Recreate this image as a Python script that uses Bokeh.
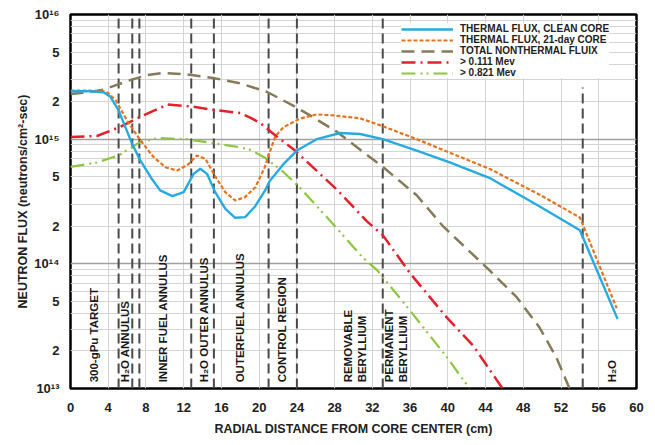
from bokeh.plotting import figure
from bokeh.models import FixedTicker, Legend, LegendItem, Range1d
from bokeh.core.properties import value
from bokeh.embed import file_html
from bokeh.resources import INLINE
import math

# Radial distance (cm) and neutron flux (neutrons/cm^2-sec) for each series
clean_x = [0, 2, 3.5, 4.2, 5.1, 5.8, 6.5, 7.4, 8.5, 9.5, 10.8, 12.0, 13.05, 13.76,
           14.47, 15.34, 16.4, 17.46, 18.52, 19.58, 20.63, 21.16, 22.57, 24.0, 26.1,
           28.6, 30.7, 33.1, 36.7, 40.2, 44.4, 49.7, 54.0, 58.0]
clean_y = [2.42e15, 2.42e15, 2.38e15, 2.2e15, 1.7e15, 1.26e15, 9.3e14, 6.75e14,
           4.95e14, 3.88e14, 3.49e14, 3.76e14, 5.27e14, 5.79e14, 5.27e14, 3.76e14,
           2.77e14, 2.34e14, 2.37e14, 2.9e14, 3.88e14, 4.67e14, 6.3e14, 8.1e14,
           1.0e15, 1.12e15, 1.1e15, 1.0e15, 8.1e14, 6.5e14, 4.9e14, 2.9e14, 1.86e14,
           3.6e13]

day21_x = [0, 2, 3.5, 4.0, 4.8, 6.0, 7.4, 8.8, 10.05, 11.3, 12.5, 13.4, 14.3, 15.3,
           16.4, 17.46, 18.5, 19.6, 20.6, 21.0, 21.7, 22.6, 24.3, 26.1, 27.9, 30.7,
           33.1, 36.7, 40.2, 44.4, 49.7, 54.0, 57.9]
day21_y = [2.45e15, 2.45e15, 2.42e15, 2.35e15, 2.04e15, 1.41e15, 9.8e14, 7.2e14,
           5.96e14, 5.6e14, 6.3e14, 7.4e14, 6.96e14, 5.1e14, 3.76e14, 3.22e14,
           3.43e14, 4.12e14, 5.96e14, 7.4e14, 1.05e15, 1.25e15, 1.46e15, 1.58e15,
           1.55e15, 1.47e15, 1.27e15, 1.0e15, 7.8e14, 5.8e14, 3.6e14, 2.35e14, 4.4e13]

nonth_x = [0, 2, 3.5, 6.0, 8.0, 9.8, 12.4, 15.1, 18.0, 20.8, 23.6, 25.4, 28.2,
           33.1, 36.7, 39.5, 44.4, 47.3, 49.7, 51.5, 52.9]
nonth_y = [2.3e15, 2.38e15, 2.5e15, 2.92e15, 3.25e15, 3.4e15, 3.3e15, 3.1e15,
           2.8e15, 2.4e15, 1.86e15, 1.55e15, 1.15e15, 6.0e14, 3.55e14, 2.0e14,
           8.9e13, 5.4e13, 3.1e13, 1.78e13, 1.0e13]

mev111_x = [0, 2.8, 5.1, 7.3, 10.3, 13.0, 15.1, 18.0, 19.1, 20.1, 22.0, 23.8,
            28.3, 31.4, 33.1, 36.0, 39.9, 42.7, 45.8]
mev111_y = [1.04e15, 1.06e15, 1.24e15, 1.5e15, 1.9e15, 1.82e15, 1.72e15, 1.62e15,
            1.48e15, 1.35e15, 1.03e15, 8.1e14, 3.9e14, 2.2e14, 1.7e14, 8.4e13,
            3.7e13, 2.2e13, 1.0e13]

mev821_x = [0, 2.8, 5.1, 7.3, 9.2, 12.3, 15.1, 18.0, 19.1, 20.6, 22.4, 24.3,
            27.8, 31.0, 32.5, 35.7, 39.9, 42.3]
mev821_y = [6.0e14, 6.5e14, 7.4e14, 9.4e14, 1.02e15, 1.0e15, 9.3e14, 8.6e14,
            8.2e14, 7.1e14, 5.6e14, 4.1e14, 2.1e14, 1.12e14, 8.9e13, 4.5e13,
            1.78e13, 1.0e13]

# Region boundaries (cm) and the flux where each boundary line stops
boundary_x = [5.1, 6.55, 7.3, 12.8, 15.2, 21.0, 24.0, 33.1, 54.3]
boundary_top = [1e16, 1e16, 1e16, 1e16, 1e16, 1e16, 1e16, 1e16, 2.6e15]

# Region names, written vertically
region_x = [2.45, 5.8, 9.85, 14.1, 18.0, 22.4, 29.4, 30.9, 33.75, 35.2, 57.4]
region_text = ["300-gPu TARGET", "H\u2082O ANNULUS", "INNER FUEL ANNULUS",
               "H\u2082O OUTER ANNULUS", "OUTERFUEL ANNULUS", "CONTROL REGION",
               "REMOVABLE", "BERYLLIUM", "PERMANENT", "BERYLLIUM", "H\u2082O"]
region_base = 1.12e13

x_ticks = list(range(0, 61, 4))
y_ticks = [1e13, 2e13, 5e13, 1e14, 2e14, 5e14, 1e15, 2e15, 5e15, 1e16]
y_labels = ["10\u00b9\u00b3", "2", "5", "10\u00b9\u2074", "2", "5",
            "10\u00b9\u2075", "2", "5", "10\u00b9\u2076"]
decades = [1e13, 1e14, 1e15, 1e16]
minor = [m * 10 ** e for e in (13, 14, 15) for m in range(2, 10)]

FONT = "Liberation Sans"

p = figure(width=655, height=445, y_axis_type="log",
           x_range=Range1d(0, 60), y_range=Range1d(1e13, 1e16),
           output_backend="svg", toolbar_location=None,
           min_border_left=70, min_border_right=19,
           min_border_top=14, min_border_bottom=57)
p.background_fill_color = "white"
p.outline_line_color = "black"
p.outline_line_width = 2.5

# grids
p.xgrid.ticker = FixedTicker(ticks=x_ticks)
p.xgrid.grid_line_color = "#d4d4d4"
p.xgrid.grid_line_width = 1
p.ygrid.ticker = FixedTicker(ticks=decades, minor_ticks=minor)
p.ygrid.grid_line_color = "#a0a0a0"
p.ygrid.grid_line_width = 1.5
p.ygrid.minor_grid_line_color = "#d4d4d4"
p.ygrid.minor_grid_line_width = 1

# axes
p.xaxis.ticker = FixedTicker(ticks=x_ticks)
p.yaxis.ticker = FixedTicker(ticks=y_ticks)
p.yaxis.major_label_overrides = {t: s for t, s in zip(y_ticks, y_labels)}
for ax in (p.xaxis[0], p.yaxis[0]):
    ax.axis_line_color = None
    ax.major_tick_line_color = None
    ax.minor_tick_line_color = None
    ax.major_label_text_font = FONT
    ax.major_label_text_font_style = "bold"
    ax.major_label_text_font_size = "13px"
    ax.major_label_text_color = "#222222"
    ax.axis_label_text_font = FONT
    ax.axis_label_text_font_style = "bold"
    ax.axis_label_text_font_size = "12.5px"
    ax.axis_label_text_color = "#222222"
p.xaxis.major_label_standoff = 8
p.xaxis.axis_label_standoff = 7
p.yaxis.major_label_standoff = 5
p.yaxis.axis_label_standoff = 1
p.xaxis.axis_label = "RADIAL DISTANCE FROM CORE CENTER (cm)"
p.yaxis.axis_label = "NEUTRON FLUX (neutrons/cm\u00b2-sec)"

# region boundaries
p.segment(x0=boundary_x, y0=[1e13] * len(boundary_x), x1=boundary_x, y1=boundary_top,
          line_color="#4a4a4a", line_width=2, line_dash="10 5")

p.text(x=region_x, y=[region_base] * len(region_x), text=region_text,
       angle=math.pi / 2, text_align="left", text_baseline="middle",
       text_font=value(FONT), text_font_style="bold", text_font_size="11.5px",
       text_color="#1a1a1a")

# flux curves
r_non = p.line(nonth_x, nonth_y, line_color="#857b58", line_width=2.5, line_dash="13 7")
r_111 = p.line(mev111_x, mev111_y, line_color="#e3202b", line_width=2.5,
               line_dash="14 5 2 5")
r_821 = p.line(mev821_x, mev821_y, line_color="#8dc63f", line_width=2.2,
               line_dash="14 5 2 4 2 5")
r_21 = p.line(day21_x, day21_y, line_color="#e8731e", line_width=2.2, line_dash="4 2")
r_clean = p.line(clean_x, clean_y, line_color="#27aae1", line_width=2.4)

legend = Legend(items=[
    LegendItem(label="THERMAL FLUX, CLEAN CORE", renderers=[r_clean]),
    LegendItem(label="THERMAL FLUX, 21-day CORE", renderers=[r_21]),
    LegendItem(label="TOTAL NONTHERMAL FLUIX", renderers=[r_non]),
    LegendItem(label="> 0.111 Mev", renderers=[r_111]),
    LegendItem(label="> 0.821 Mev", renderers=[r_821]),
], location=(331, 310), glyph_width=52, glyph_height=10, label_height=10,
    spacing=-3, padding=6, margin=0, label_standoff=7,
    border_line_color=None, background_fill_color="white", background_fill_alpha=1,
    label_text_font=FONT, label_text_font_style="bold", label_text_font_size="10px",
    label_text_color="#222222")
p.add_layout(legend)

open("out.html", "w").write(file_html(p, INLINE))
